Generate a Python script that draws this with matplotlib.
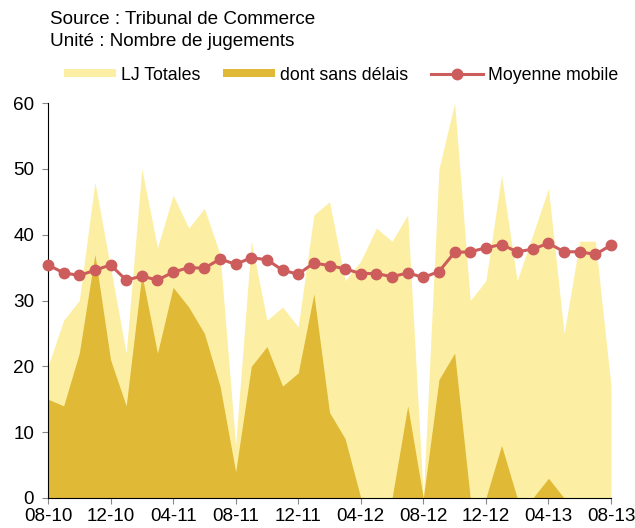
import matplotlib
matplotlib.use("Agg")
import matplotlib.pyplot as plt
import numpy as np

plt.rcParams['font.family'] = ['Liberation Sans', 'DejaVu Sans']

# mois 08-10 .. 08-13
tick_labels = ['08-10', '12-10', '04-11', '08-11', '12-11', '04-12',
               '08-12', '12-12', '04-13', '08-13']
lj_totales = [20, 27, 30, 48, 35, 22, 50, 38, 46, 41, 44, 37, 8,
              39, 27, 29, 26, 43, 45, 33, 36, 41, 39, 43, 0,
              50, 60, 30, 33, 49, 33, 40, 47, 25, 39, 39, 17]
sans_delais = [15, 14, 22, 37, 21, 14, 34, 22, 32, 29, 25, 17, 4,
               20, 23, 17, 19, 31, 13, 9, 0, 0, 0, 14, 0,
               18, 22, 0, 0, 8, 0, 0, 3, 0, 0, 0, 0]
moyenne = [35.4, 34.2, 33.8, 34.6, 35.4, 33.1, 33.7, 33.1, 34.3, 35.0,
           34.9, 36.3, 35.5, 36.5, 36.2, 34.6, 34.0, 35.7, 35.3, 34.8,
           34.1, 34.1, 33.6, 34.2, 33.5, 34.4, 37.3, 37.4, 38.0, 38.5,
           37.4, 37.8, 38.7, 37.4, 37.4, 37.0, 38.4]

x = np.arange(len(lj_totales))
fs = 13.6

fig = plt.figure(figsize=(6.35, 5.28), dpi=100)
ax = fig.add_axes([48/635, 30/528, 563/635, 395/528])

ax.fill_between(x, 0, lj_totales, color='#fcefa3', lw=0, label='LJ Totales')
ax.fill_between(x, 0, sans_delais, color='#e0b936', lw=0, label='dont sans délais')
ax.plot(x, moyenne, color='#cd5c5c', lw=2.2, marker='o', ms=7.5,
        label='Moyenne mobile', clip_on=False, zorder=5)

ax.set_xlim(0, 36)
ax.set_ylim(0, 60)
ax.set_xticks(x[::4])
ax.set_xticklabels(tick_labels)
ax.set_yticks(range(0, 61, 10))
ax.spines['top'].set_visible(False)
ax.spines['right'].set_visible(False)
ax.tick_params(axis='both', labelsize=fs, length=4, direction='out', color='#888888')
ax.tick_params(axis='y', pad=6)
ax.tick_params(axis='x', pad=3)

fig.text(50/635, 1 - 20/528, 'Source : Tribunal de Commerce', fontsize=fs, va='center')
fig.text(50/635, 1 - 42/528, 'Unité : Nombre de jugements', fontsize=fs, va='center')

leg = fig.legend(loc='center', bbox_to_anchor=(341/635, 1 - 75/528), ncol=3,
                 frameon=False, fontsize=12.8, handlelength=2.92, handleheight=0.35,
                 columnspacing=1.3, handletextpad=0.28, borderpad=0, borderaxespad=0)

fig.savefig('out.png', dpi=100)
